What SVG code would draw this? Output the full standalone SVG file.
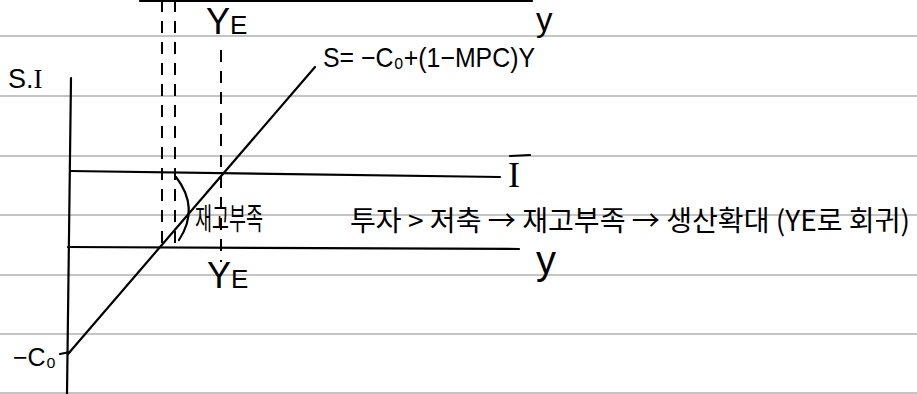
<svg xmlns="http://www.w3.org/2000/svg" width="917" height="394" viewBox="0 0 917 394">
<style>
.rule{stroke:#8a8a8a;stroke-width:1.2;fill:none}
.ink{stroke:#000;stroke-width:2.2;fill:none;stroke-linecap:round}
.dash{stroke:#000;stroke-width:2;fill:none;stroke-dasharray:12 9}
.t{font-family:"Liberation Sans","Noto Sans CJK KR",sans-serif;fill:#000}
.s{font-family:"Liberation Serif",serif;fill:#000}
.k{font-family:"Noto Sans CJK KR","Noto Sans",sans-serif;fill:#000}
</style>
<rect width="917" height="394" fill="#fff"/>
<g id="paper">
<line class="rule" x1="0" y1="36" x2="917" y2="36"/>
<line class="rule" x1="0" y1="96" x2="917" y2="96"/>
<line class="rule" x1="0" y1="156" x2="917" y2="156"/>
<line class="rule" x1="0" y1="215" x2="917" y2="215"/>
<line class="rule" x1="0" y1="275" x2="917" y2="275"/>
<line class="rule" x1="0" y1="334" x2="917" y2="334"/>
<line class="rule" x1="0" y1="393" x2="917" y2="393"/>
</g>
<g id="top-axis">
<line class="ink" x1="140" y1="1" x2="532" y2="1"/>
<text class="t" x="536" y="31" font-size="33">y</text>
<text class="t" x="206" y="34" font-size="36">Y<tspan font-size="26">E</tspan></text>
</g>
<g id="axes">
<line class="ink" x1="71" y1="78" x2="67" y2="394"/>
<text class="t" x="8" y="88" font-size="27">S.<tspan class="s">I</tspan></text>
<line class="ink" x1="60" y1="354" x2="70" y2="352"/>
<text class="t" x="13" y="366" font-size="25">−C₀</text>
</g>
<g id="connectors">
<line class="dash" x1="162" y1="0" x2="162" y2="247"/>
<line class="dash" x1="175" y1="0" x2="175" y2="247"/>
<line class="dash" x1="221" y1="50" x2="221" y2="262"/>
</g>
<g id="I-line">
<line class="ink" x1="70" y1="171" x2="500" y2="177"/>
<text class="s" x="508" y="187" font-size="36">I</text>
<line class="ink" x1="510" y1="156" x2="530" y2="155"/>
</g>
<g id="Y-line">
<line class="ink" x1="68" y1="247" x2="519" y2="249"/>
<text class="t" x="536" y="274" font-size="40">y</text>
<text class="t" x="207" y="288" font-size="36">Y<tspan font-size="26">E</tspan></text>
</g>
<g id="S-line">
<line class="ink" x1="68" y1="354" x2="315" y2="67"/>
<text class="t" x="323" y="67" font-size="28" textLength="212" lengthAdjust="spacingAndGlyphs">S= −C₀+(1−MPC)Y</text>
</g>
<g id="shortage">
<path class="ink" d="M176,177 Q200,208 179,240"/>
<text class="k" x="195" y="229" font-size="30" textLength="68" lengthAdjust="spacingAndGlyphs">재고부족</text>
</g>
<g id="explanation">
<text class="k" x="350" y="231" font-size="28" textLength="560" lengthAdjust="spacingAndGlyphs">투자 &gt; 저축 → 재고부족 → 생산확대 (YE로 회귀)</text>
</g>
</svg>
